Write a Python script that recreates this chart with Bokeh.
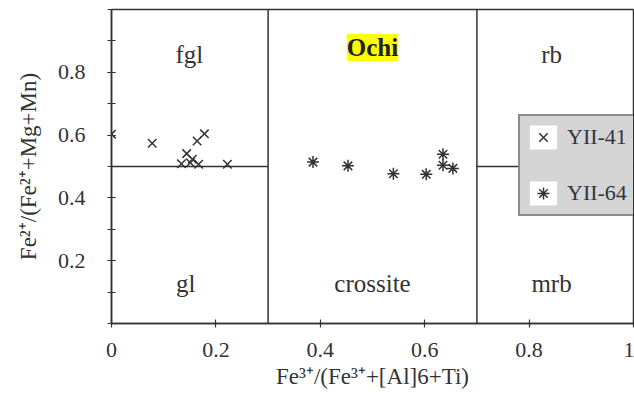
from bokeh.plotting import figure
from bokeh.models import Range1d, FixedTicker, Legend, LegendItem, Label
from bokeh.core.properties import value
from bokeh.embed import file_html
from bokeh.resources import INLINE

# ---- data ----
yii41_x = [0.0, 0.078, 0.134, 0.144, 0.151, 0.155, 0.164, 0.167, 0.178, 0.222]
yii41_y = [0.603, 0.574, 0.509, 0.541, 0.512, 0.523, 0.581, 0.507, 0.604, 0.507]
yii64_x = [0.386, 0.453, 0.540, 0.603, 0.635, 0.635, 0.654]
yii64_y = [0.514, 0.502, 0.477, 0.475, 0.539, 0.504, 0.494]

# field boundaries of the classification diagram
vert_x = [0.3, 0.7]
vert_y0 = [0.0, 0.0]
vert_y1 = [1.0, 1.0]
horiz_x0 = [0.0, 0.7]
horiz_x1 = [0.3, 1.0]
horiz_y = [0.5, 0.5]

field_names = ["fgl", "gl", "crossite", "rb", "mrb"]
field_x = [0.149, 0.142, 0.5, 0.843, 0.843]
field_y = [0.857, 0.127, 0.127, 0.857, 0.127]

title_text = "Ochi"
title_x = 0.5
title_y = 0.879

x_ticks = [0.0, 0.2, 0.4, 0.6, 0.8, 1.0]
x_tick_labels = ["0", "0.2", "0.4", "0.6", "0.8", "1"]
y_ticks = [0.2, 0.4, 0.6, 0.8]
y_tick_labels = ["0.2", "0.4", "0.6", "0.8"]
y_minor = [0.0, 0.1, 0.2, 0.3, 0.4, 0.5, 0.6, 0.7, 0.8, 0.9, 1.0]

FONT = "Liberation Serif"
INK = "#333333"

p = figure(width=634, height=398, x_range=Range1d(0, 1), y_range=Range1d(0, 1),
           output_backend="svg", toolbar_location=None,
           min_border_left=111, min_border_top=9, min_border_right=1, min_border_bottom=75)
p.xgrid.visible = False
p.ygrid.visible = False
p.outline_line_color = INK
p.outline_line_width = 1.5
p.background_fill_color = "white"
p.border_fill_color = "white"

# axes
p.xaxis.ticker = FixedTicker(ticks=x_ticks)
p.xaxis.major_label_overrides = dict(zip(x_ticks, x_tick_labels))
p.yaxis.ticker = FixedTicker(ticks=y_ticks, minor_ticks=y_minor)
p.yaxis.major_label_overrides = dict(zip(y_ticks, y_tick_labels))
for ax in (p.xaxis, p.yaxis):
    ax.axis_line_color = INK
    ax.axis_line_width = 1.5
    ax.major_tick_line_color = INK
    ax.major_tick_line_width = 1.2
    ax.minor_tick_line_color = INK
    ax.minor_tick_line_width = 1.2
    ax.major_tick_in = 4
    ax.major_tick_out = 4
    ax.minor_tick_in = 4
    ax.minor_tick_out = 4
    ax.major_label_text_font = FONT
    ax.major_label_text_font_size = "22px"
    ax.major_label_text_color = INK
    ax.axis_label_text_font = FONT
    ax.axis_label_text_font_size = "23px"
    ax.axis_label_text_font_style = "normal"
    ax.axis_label_text_color = INK
p.xaxis.minor_tick_line_color = None
p.xaxis.major_label_standoff = 15
p.xaxis.axis_label_standoff = 4
p.yaxis.major_label_standoff = 22
p.yaxis.axis_label_standoff = 14
p.xaxis.axis_label = "Fe³⁺/(Fe³⁺+[Al]6+Ti)"
p.yaxis.axis_label = "Fe²⁺/(Fe²⁺+Mg+Mn)"

# boundaries
p.segment(x0=vert_x, y0=vert_y0, x1=vert_x, y1=vert_y1, line_color=INK, line_width=1.5)
p.segment(x0=horiz_x0, y0=horiz_y, x1=horiz_x1, y1=horiz_y, line_color=INK, line_width=1.5)

# field names
p.text(x=field_x, y=field_y, text=field_names, text_font=value(FONT), text_font_size="25px",
       text_color=INK, text_align="center", text_baseline="middle")
p.add_layout(Label(x=title_x, y=title_y, text=title_text, text_font=FONT, text_font_size="25px",
                   text_font_style="bold", text_color="#222222", text_align="center",
                   text_baseline="middle", background_fill_color="#ffff00"))

# data
r41 = p.scatter(yii41_x, yii41_y, marker="x", size=12, line_color=INK, line_width=1.5)
r64 = p.scatter(yii64_x, yii64_y, marker="asterisk", size=12, line_color=INK, line_width=1.5)

# white box behind legend glyphs: a zero-size rect (invisible in the plot), used only by the legend
bg = p.rect(x=yii41_x[:1], y=yii41_y[:1], width=0, height=0,
            fill_color="white", line_color=None)

legend = Legend(items=[LegendItem(label="YII-41", renderers=[bg, r41]),
                       LegendItem(label="YII-64", renderers=[bg, r64])],
                location=(407, 107), background_fill_color="#d4d4d4", background_fill_alpha=1,
                border_line_color="#444444", border_line_width=2,
                label_text_font=FONT, label_text_font_size="22px", label_text_color="#333344",
                glyph_width=34, glyph_height=30, spacing=26, padding=6, label_standoff=7)
p.add_layout(legend)

open("out.html", "w").write(file_html(p, INLINE))
